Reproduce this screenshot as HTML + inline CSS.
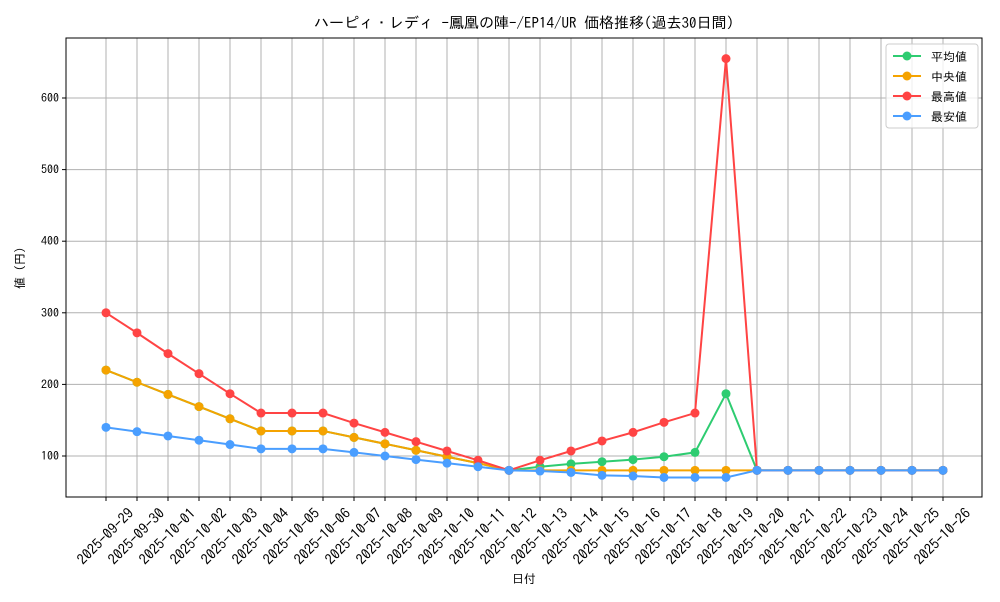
<!DOCTYPE html>
<html><head><meta charset="utf-8"><style>
body{margin:0;background:#fff;font-family:"IPAGothic","Noto Sans CJK JP",sans-serif;}
svg text{font-family:"IPAGothic","Noto Sans CJK JP",sans-serif;fill:#000}
</style></head><body>
<svg id="c" width="1000" height="600" xmlns="http://www.w3.org/2000/svg"></svg>
<script>
const dates=["2025-09-29","2025-09-30","2025-10-01","2025-10-02","2025-10-03","2025-10-04","2025-10-05","2025-10-06","2025-10-07","2025-10-08","2025-10-09","2025-10-10","2025-10-11","2025-10-12","2025-10-13","2025-10-14","2025-10-15","2025-10-16","2025-10-17","2025-10-18","2025-10-19","2025-10-20","2025-10-21","2025-10-22","2025-10-23","2025-10-24","2025-10-25","2025-10-26"];
const avgVals=[220,203,186,169,152,135,135,135,126,117,108,99,90,80,85,89,92,95,99,105,187,80,80,80,80,80,80,80];
const medVals=[220,203,186,169,152,135,135,135,126,117,108,99,90,80,80,80,80,80,80,80,80,80,80,80,80,80,80,80];
const maxVals=[300,272,243,215,187,160,160,160,146,133,120,107,94,80,94,107,121,133,147,160,655,80,80,80,80,80,80,80];
const minVals=[140,134,128,122,116,110,110,110,105,100,95,90,85,80,79,77,73,72,70,70,70,80,80,80,80,80,80,80];
const yTicks=[100,200,300,400,500,600];
const NS="http://www.w3.org/2000/svg";
const svg=document.getElementById('c');
const L=66,R=982,T=38,B=497;
const x=i=>106+i*(943-106)/(dates.length-1);
const y=v=>527.6-v*0.716;
function el(t,a,p){const e=document.createElementNS(NS,t);for(const k in a)e.setAttribute(k,a[k]);(p||svg).appendChild(e);return e;}
dates.forEach((d,i)=>{
  const g=el('line',{x1:x(i),x2:x(i),y1:T,y2:B,stroke:'#b0b0b0','stroke-width':1});
  
  
  el('line',{x1:x(i),x2:x(i),y1:B,y2:B+4,stroke:'#000'});
  const cx=x(i)-1, cy=536;
  const t=el('text',{x:cx,y:cy,'font-size':14.5,'text-anchor':'middle','dominant-baseline':'central',transform:`rotate(-45 ${cx} ${cy})`});
  t.textContent=d;
  
  
});
yTicks.forEach(v=>{
  const g=el('line',{x1:L,x2:R,y1:y(v),y2:y(v),stroke:'#b0b0b0','stroke-width':1});
  
  
  el('line',{x1:L-4,x2:L,y1:y(v),y2:y(v),stroke:'#000'});
  const t=el('text',{x:L-7,y:y(v)+4,'font-size':12,'text-anchor':'end'});
  t.textContent=v;
  
  
});
const frame=el('rect',{x:L,y:T,width:R-L,height:B-T,fill:'none',stroke:'#000','stroke-width':1});


const series=[[avgVals,'#2ecc71','平均値','avg-series'],[medVals,'#f5a300','中央値','median-series'],[maxVals,'#ff4444','最高値','max-series'],[minVals,'#4a9eff','最安値','min-series']];
series.forEach(([vals,col,name,dn])=>{
  const g=el('g',{});
  
  
  el('polyline',{points:vals.map((v,i)=>x(i)+','+y(v)).join(' '),fill:'none',stroke:col,'stroke-width':2},g);
  vals.forEach((v,i)=>{const c=el('circle',{cx:x(i),cy:y(v),r:4.5,fill:col},g);
    
    });
});
const lg=el('g',{});


el('rect',{x:886,y:44,width:92,height:84,rx:3,fill:'#fff','fill-opacity':0.8,stroke:'#ccc'},lg);
series.forEach(([v,col,name],k)=>{
  const yy=56+k*20;
  const e=el('g',{},lg);
  
  
  el('line',{x1:893,x2:921,y1:yy,y2:yy,stroke:col,'stroke-width':2},e);
  el('circle',{cx:907,cy:yy,r:4.5,fill:col},e);
  const t=el('text',{x:931,y:yy+5,'font-size':12},e);t.textContent=name;
});
const title=el('text',{x:524,y:28,'font-size':15,'text-anchor':'middle'});
title.textContent='ハーピィ・レディ -鳳凰の陣-/EP14/UR 価格推移(過去30日間)';


const xt=el('text',{x:524,y:583,'font-size':12,'text-anchor':'middle'});
xt.textContent='日付';


const yt=el('text',{x:24,y:268,'font-size':12,'text-anchor':'middle',transform:'rotate(-90 24 268)'});
yt.textContent='値 (円)';


</script>
</body></html>
